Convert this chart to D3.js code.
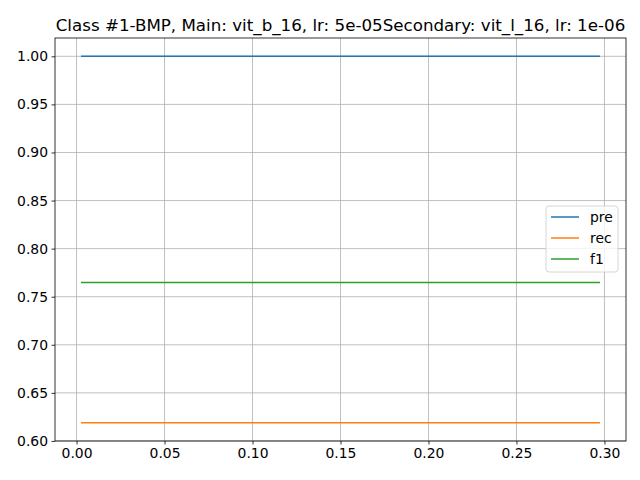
<!DOCTYPE html>
<html>
<head>
<meta charset="utf-8">
<script src="https://cdn.jsdelivr.net/npm/d3@7"></script>
<style>
  body { margin: 0; background: #fff; }
  text { font-family: "DejaVu Sans", sans-serif; }
</style>
</head>
<body>
<div id="chart"></div>
<script>
const title = 'Class #1-BMP, Main: vit_b_16, lr: 5e-05Secondary: vit_l_16, lr: 1e-06';
const xValues = [0.0025, 0.05, 0.1, 0.15, 0.2, 0.25, 0.2975];
const seriesNames = ['pre', 'rec', 'f1'];
const preValues = [1.0, 1.0, 1.0, 1.0, 1.0, 1.0, 1.0];
const recValues = [0.619, 0.619, 0.619, 0.619, 0.619, 0.619, 0.619];
const f1Values = [0.7647, 0.7647, 0.7647, 0.7647, 0.7647, 0.7647, 0.7647];
const xTicks = [0, 0.05, 0.1, 0.15, 0.2, 0.25, 0.3];
const yTicks = [0.6, 0.65, 0.7, 0.75, 0.8, 0.85, 0.9, 0.95, 1.0];

const w = 640, h = 480;
const m = {left: 55, right: 14, top: 38, bottom: 39};
const colors = ['#1f77b4', '#ff7f0e', '#2ca02c'];
const series = [preValues, recValues, f1Values];

const svg = d3.select('#chart').append('svg')
    .attr('width', w).attr('height', h);

// matplotlib-style 5% margins
const xr = d3.extent(xValues);
const xPad = (xr[1] - xr[0]) * 0.05;
const allY = series.flat();
const yr = d3.extent(allY);
const yPad = (yr[1] - yr[0]) * 0.05;

const x = d3.scaleLinear().domain([xr[0] - xPad, xr[1] + xPad])
    .range([m.left, w - m.right]);
const y = d3.scaleLinear().domain([yr[0] - yPad, yr[1] + yPad])
    .range([h - m.bottom, m.top]);

// grid
svg.append('g').selectAll('line').data(xTicks).enter().append('line')
    .attr('x1', d => x(d)).attr('x2', d => x(d))
    .attr('y1', m.top).attr('y2', h - m.bottom)
    .attr('stroke', '#b0b0b0').attr('stroke-width', 0.8);
svg.append('g').selectAll('line').data(yTicks).enter().append('line')
    .attr('x1', m.left).attr('x2', w - m.right)
    .attr('y1', d => y(d)).attr('y2', d => y(d))
    .attr('stroke', '#b0b0b0').attr('stroke-width', 0.8);

// lines
const line = d3.line().x((d, i) => x(xValues[i])).y(d => y(d));
series.forEach((s, k) => {
  svg.append('path').datum(s)
      .attr('fill', 'none')
      .attr('stroke', colors[k])
      .attr('stroke-width', 1.5)
      .attr('d', line);
});

// axes
const xAxis = svg.append('g')
    .attr('transform', 'translate(0,' + (h - m.bottom) + ')')
    .call(d3.axisBottom(x).tickValues(xTicks).tickFormat(d3.format('.2f'))
        .tickSize(3.5).tickPadding(3.5));
const yAxis = svg.append('g')
    .attr('transform', 'translate(' + m.left + ',0)')
    .call(d3.axisLeft(y).tickValues(yTicks).tickFormat(d3.format('.2f'))
        .tickSize(3.5).tickPadding(3.5));
[xAxis, yAxis].forEach(a => {
  a.select('.domain').remove();
  a.selectAll('text').attr('font-size', '13.9px').attr('fill', '#000')
      .attr('font-family', '"DejaVu Sans", sans-serif');
  a.selectAll('line').attr('stroke', '#000').attr('stroke-width', 0.8);
});

// frame
svg.append('rect')
    .attr('x', m.left).attr('y', m.top)
    .attr('width', w - m.left - m.right).attr('height', h - m.top - m.bottom)
    .attr('fill', 'none').attr('stroke', '#000').attr('stroke-width', 0.8);

// title
svg.append('text')
    .attr('x', (m.left + w - m.right) / 2).attr('y', m.top - 7)
    .attr('text-anchor', 'middle')
    .attr('font-size', '16.7px')
    .text(title);

// legend
const lg = svg.append('g').attr('transform', 'translate(546,206)');
lg.append('rect')
    .attr('width', 72).attr('height', 66).attr('rx', 3)
    .attr('fill', '#fff').attr('fill-opacity', 0.8)
    .attr('stroke', '#cccccc').attr('stroke-width', 0.8);
seriesNames.forEach((name, i) => {
  const yy = 11 + i * 21;
  lg.append('line')
      .attr('x1', 5).attr('x2', 33).attr('y1', yy).attr('y2', yy)
      .attr('stroke', colors[i]).attr('stroke-width', 1.5);
  lg.append('text')
      .attr('x', 44).attr('y', yy + 5)
      .attr('font-size', '13.9px')
      .text(name);
});
</script>
</body>
</html>
